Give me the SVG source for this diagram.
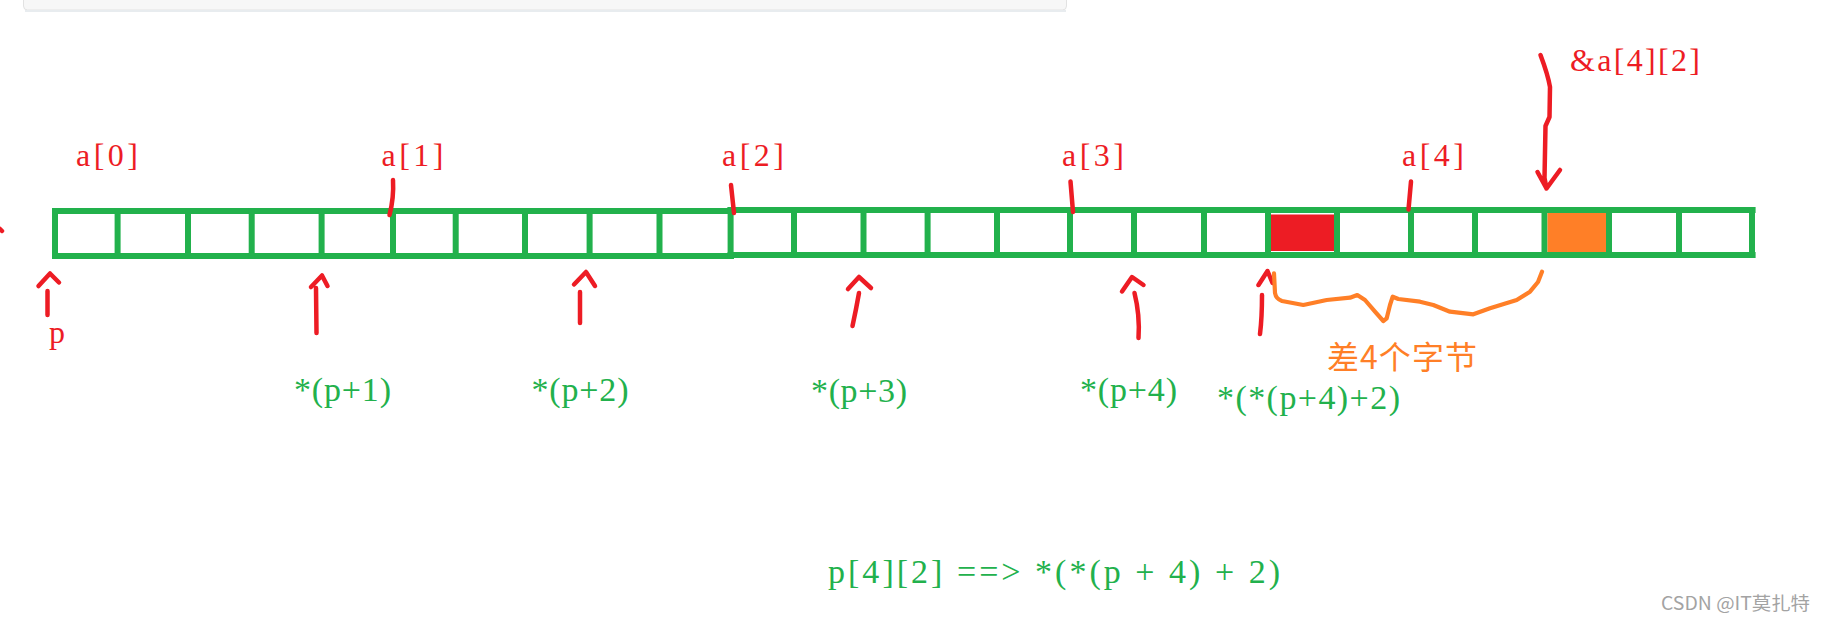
<svg xmlns="http://www.w3.org/2000/svg" width="1824" height="621" viewBox="0 0 1824 621">
<style>
.g{fill:#22b14c}
.red{fill:none;stroke:#ed1c24;stroke-width:4.5;stroke-linecap:round;stroke-linejoin:round}
.org{fill:none;stroke:#ff7f27;stroke-width:4.2;stroke-linecap:round;stroke-linejoin:round}
.lr{font-family:"Liberation Serif",serif;font-size:32px;fill:#ed1c24}
.lg{font-family:"Liberation Serif",serif;font-size:34px;fill:#22b14c}
.lo{font-family:"Noto Sans CJK SC",sans-serif;font-size:32px;fill:#ff7f27}
.wm{font-family:"Noto Sans CJK SC",sans-serif;font-size:18px;fill:#a3a3a3}
</style>
<rect width="1824" height="621" fill="#ffffff"/>
<g id="topbar">
<rect x="23.5" y="-8" width="1043" height="18" rx="4" fill="#f7f7f7" stroke="#e2e2e2" stroke-width="1"/>
<line x1="25" y1="11" x2="1066" y2="11" stroke="#e8ecef" stroke-width="2"/>
</g>
<g id="array">
<g id="a0">
<rect class="g" x="52" y="208" width="682" height="6"/>
<rect class="g" x="52" y="253" width="682" height="6"/>
<rect class="g" x="52" y="208" width="6" height="51"/>
<rect class="g" x="114.6" y="208" width="6" height="51"/>
<rect class="g" x="185" y="208" width="6" height="51"/>
<rect class="g" x="248.7" y="208" width="6" height="51"/>
<rect class="g" x="318.6" y="208" width="6" height="51"/>
</g>
<g id="a1">
<rect class="g" x="390" y="208" width="6" height="51"/>
<rect class="g" x="452.7" y="208" width="6" height="51"/>
<rect class="g" x="522" y="208" width="6" height="51"/>
<rect class="g" x="586.6" y="208" width="6" height="51"/>
<rect class="g" x="656.5" y="208" width="6" height="51"/>
</g>
<g id="a2">
<rect class="g" x="727.6" y="207" width="1028" height="6"/>
<rect class="g" x="727.6" y="252" width="1028" height="6"/>
<rect class="g" x="727.6" y="207" width="6" height="51"/>
<rect class="g" x="791" y="207" width="6" height="51"/>
<rect class="g" x="860.5" y="207" width="6" height="51"/>
<rect class="g" x="924.6" y="207" width="6" height="51"/>
<rect class="g" x="994" y="207" width="6" height="51"/>
</g>
<g id="a3">
<rect class="g" x="1067" y="207" width="6" height="51"/>
<rect class="g" x="1131" y="207" width="6" height="51"/>
<rect class="g" x="1201" y="207" width="6" height="51"/>
<rect class="g" x="1265" y="207" width="6" height="51"/>
<rect x="1271" y="214.5" width="63" height="36.5" fill="#ed1c24"/>
<rect class="g" x="1334" y="207" width="6" height="51"/>
</g>
<g id="a4">
<rect class="g" x="1408" y="207" width="6" height="51"/>
<rect class="g" x="1472" y="207" width="6" height="51"/>
<rect class="g" x="1541.5" y="207" width="6" height="51"/>
<rect x="1547.5" y="213" width="58.5" height="39" fill="#ff7f27"/>
<rect class="g" x="1606" y="207" width="6" height="51"/>
<rect class="g" x="1676" y="207" width="6" height="51"/>
<rect class="g" x="1749" y="207" width="6" height="51"/>
</g>
</g>
<g id="connectors">
<path class="red" d="M0,229 L2,231"/>
<path class="red" d="M38.5,286 L50,273.5 L59,282.5 M47.5,291 L47.5,315"/>
<path class="red" d="M311,287 L322,275.5 L327.5,286 M316,288 L316.5,333"/>
<path class="red" d="M574,284.5 L586,272 L595,286 M580,292 L580,323"/>
<path class="red" d="M848,289 L859,277 L871,288 M859,293 Q856,310 852.5,326"/>
<path class="red" d="M1122,291.5 L1132,277 L1143.5,285 M1134.5,293 Q1140,315 1138.5,338"/>
<path class="red" d="M1258.5,285 L1267.5,271 L1272.5,283 M1262,295 Q1262,318 1260,334"/>
<path class="red" d="M393,180 Q394,198 389.5,215"/>
<path class="red" d="M731,185 L734,213"/>
<path class="red" d="M1070.5,181.5 L1073,212"/>
<path class="red" d="M1411,181.5 L1408.5,209.5"/>
<path class="red" d="M1540.5,55 Q1548,75 1550,87 L1549.5,117 L1545.5,126 L1544.5,178 L1546.5,188.5 M1537.5,172 L1546.5,188.5 L1560,170"/>
<path class="org" d="M1274,273.3 L1275,293 Q1276,299 1282,301 L1303.3,305 L1326.7,300 L1350,297.7 L1357.3,295 L1365,300 L1375,311.7 L1383.3,321 L1386.7,318.3 L1390,305 L1392.7,296.7 L1398.3,299 L1420,301.7 L1433.3,305 L1450,311.7 L1473.3,314.3 L1490,308.3 L1516.7,300 L1530,291.7 L1538,282 L1542,271.7"/>
</g>
<g id="label-a0"><text class="lr" x="76" y="166" textLength="62" lengthAdjust="spacing">a[0]</text></g>
<g id="label-a1"><text class="lr" x="381.5" y="166" textLength="62" lengthAdjust="spacing">a[1]</text></g>
<g id="label-a2"><text class="lr" x="722" y="166" textLength="62" lengthAdjust="spacing">a[2]</text></g>
<g id="label-a3"><text class="lr" x="1062" y="166" textLength="62" lengthAdjust="spacing">a[3]</text></g>
<g id="label-a4"><text class="lr" x="1402" y="166" textLength="62" lengthAdjust="spacing">a[4]</text></g>
<g id="label-a42"><text class="lr" x="1570" y="71" textLength="130" lengthAdjust="spacing">&amp;a[4][2]</text></g>
<g id="label-p"><text class="lr" x="49" y="343">p</text></g>
<g id="label-p1"><text class="lg" x="294" y="401" textLength="97" lengthAdjust="spacing">*(p+1)</text></g>
<g id="label-p2"><text class="lg" x="531.5" y="401" textLength="97" lengthAdjust="spacing">*(p+2)</text></g>
<g id="label-p3"><text class="lg" x="811" y="402" textLength="96" lengthAdjust="spacing">*(p+3)</text></g>
<g id="label-p4"><text class="lg" x="1080" y="401" textLength="97" lengthAdjust="spacing">*(p+4)</text></g>
<g id="label-pp42"><text class="lg" x="1217" y="409" textLength="183" lengthAdjust="spacing">*(*(p+4)+2)</text></g>
<g id="label-diff"><text class="lo" x="1327" y="369" textLength="150" lengthAdjust="spacing">差4个字节</text></g>
<g id="label-formula"><text class="lg" x="828" y="583" textLength="452" lengthAdjust="spacing">p[4][2] ==&gt; *(*(p + 4) + 2)</text></g>
<g id="watermark"><text class="wm" x="1661" y="609.5" textLength="149" lengthAdjust="spacingAndGlyphs">CSDN @IT莫扎特</text></g>
</svg>
